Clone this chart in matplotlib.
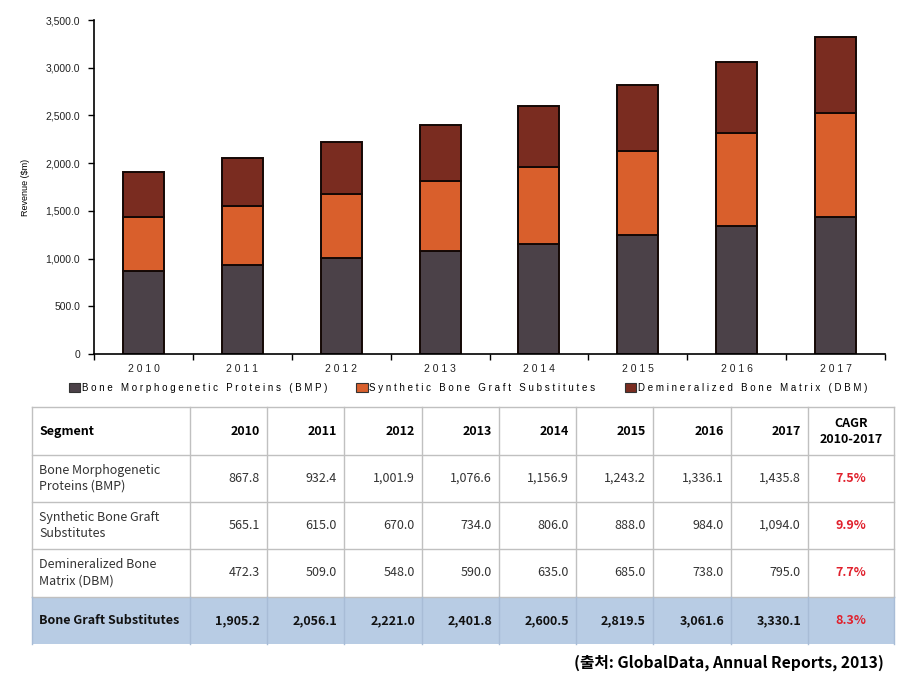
import matplotlib
matplotlib.use("Agg")
import matplotlib.pyplot as plt
from matplotlib.patches import Patch, Rectangle

years = ["2010", "2011", "2012", "2013", "2014", "2015", "2016", "2017"]
bmp = [867.8, 932.4, 1001.9, 1076.6, 1156.9, 1243.2, 1336.1, 1435.8]
synthetic = [565.1, 615.0, 670.0, 734.0, 806.0, 888.0, 984.0, 1094.0]
dbm = [472.3, 509.0, 548.0, 590.0, 635.0, 685.0, 738.0, 795.0]
total = [1905.2, 2056.1, 2221.0, 2401.8, 2600.5, 2819.5, 3061.6, 3330.1]
cagr = ["7.5%", "9.9%", "7.7%", "8.3%"]
row_names = ["Bone Morphogenetic\nProteins (BMP)", "Synthetic Bone Graft\nSubstitutes",
             "Demineralized Bone\nMatrix (DBM)", "Bone Graft Substitutes"]
series_names = ["Bone Morphogenetic Proteins (BMP)", "Synthetic Bone Graft Substitutes",
                "Demineralized Bone Matrix (DBM)"]
y_ticks = [0, 500, 1000, 1500, 2000, 2500, 3000, 3500]
y_tick_labels = ["0", "500.0", "1,000.0", "1,500.0", "2,000.0", "2,500.0", "3,000.0", "3,500.0"]

c_bmp = "#4b4148"
c_syn = "#d95f2c"
c_dbm = "#7a2c20"
W, H = 901, 685


def spaced(s):
    return " ".join(s)


plt.rcParams['font.family'] = ['Liberation Sans', 'DejaVu Sans']

fig = plt.figure(figsize=(W / 100, H / 100), dpi=100)
ax = fig.add_axes([94 / W, 1 - 354 / H, (885 - 94) / W, (354 - 20) / H])

x = list(range(len(years)))
bw = 0.415
ax.bar(x, bmp, bw, color=c_bmp, edgecolor="#140805", linewidth=1.4)
ax.bar(x, synthetic, bw, bottom=bmp, color=c_syn, edgecolor="#140805", linewidth=1.4)
bot2 = [a + b for a, b in zip(bmp, synthetic)]
ax.bar(x, dbm, bw, bottom=bot2, color=c_dbm, edgecolor="#140805", linewidth=1.4)

ax.set_xlim(-0.5, len(years) - 0.5)
ax.set_ylim(0, 3500)
for s in ["top", "right"]:
    ax.spines[s].set_visible(False)
for s in ["left", "bottom"]:
    ax.spines[s].set_linewidth(1.2)
ax.set_yticks(y_ticks)
ax.set_yticklabels(y_tick_labels, fontsize=7.5, color="#222222")
ax.set_xticks(x)
ax.set_xticklabels([spaced(t) for t in years], fontsize=7.5, color="#222222")
ax.set_xticks([i - 0.5 for i in range(len(years) + 1)], minor=True)
ax.tick_params(axis="x", which="major", length=0, pad=7)
ax.tick_params(axis="x", which="minor", length=4, direction="out", width=1)
ax.tick_params(axis="y", length=4, direction="out", width=1, pad=6)
ax.set_ylabel("Revenue ($m)", fontsize=6.5)
ax.yaxis.set_label_coords((30 - 94) / 791, 0.5)

handles = [Patch(facecolor=c, edgecolor="#333333", linewidth=0.8) for c in (c_bmp, c_syn, c_dbm)]
fig.legend(handles, [spaced(n) for n in series_names], loc="center",
           bbox_to_anchor=(468 / W, 1 - 388 / H), ncol=3, frameon=False, fontsize=7,
           handlelength=1.2, handleheight=1.0, handletextpad=0.15, columnspacing=3.0)

# table
tab = fig.add_axes([0, 0, 1, 1])
tab.set_xlim(0, W)
tab.set_ylim(H, 0)
tab.axis("off")

cols = [32, 190, 267, 344, 422, 499, 576, 653, 731, 808, 894]
rows = [407, 455, 502, 549, 597, 644]
tab.add_patch(Rectangle((cols[0], rows[4]), cols[-1] - cols[0], rows[5] - rows[4],
                        facecolor="#b8cce4", edgecolor="none"))
for yy in rows[:-1]:
    tab.plot([cols[0], cols[-1]], [yy, yy], color="#c0c0c0", lw=1)
for xx in cols:
    tab.plot([xx, xx], [rows[0], rows[4]], color="#c0c0c0", lw=1)
    tab.plot([xx, xx], [rows[4], rows[5]], color="#a8bcd6", lw=1)

tf = ['Noto Sans CJK KR', 'DejaVu Sans']
fs = 9
ymid = [(rows[i] + rows[i + 1]) / 2 for i in range(5)]
tab.text(39, ymid[0], "Segment", ha="left", va="center", fontsize=fs, fontweight="bold", family=tf)
for j, yr in enumerate(years):
    tab.text(cols[j + 2] - 7, ymid[0], yr, ha="right", va="center", fontsize=fs,
             fontweight="bold", family=tf)
tab.text((cols[9] + cols[10]) / 2, ymid[0], "CAGR\n2010-2017", ha="center", va="center",
         fontsize=fs, fontweight="bold", family=tf, linespacing=1.3)

table_rows = [bmp, synthetic, dbm, total]
for i, vals in enumerate(table_rows):
    is_total = i == 3
    wt = "bold" if is_total else "normal"
    tc = "#111111" if is_total else "#333333"
    tab.text(39, ymid[i + 1], row_names[i], ha="left", va="center", fontsize=fs,
             fontweight=wt, family=tf, linespacing=1.3, color=tc)
    for j, v in enumerate(vals):
        tab.text(cols[j + 2] - 7, ymid[i + 1], f"{v:,.1f}", ha="right", va="center",
                 fontsize=fs, fontweight=wt, family=tf, color=tc)
    tab.text((cols[9] + cols[10]) / 2, ymid[i + 1], cagr[i], ha="center", va="center",
             fontsize=fs, fontweight="bold", family=tf, color="#e0202c")

tab.text(884, 663, "(출처: GlobalData, Annual Reports, 2013)", ha="right", va="center",
         fontsize=11.3, fontweight="bold", family=tf)

fig.savefig("out.png", dpi=100)
